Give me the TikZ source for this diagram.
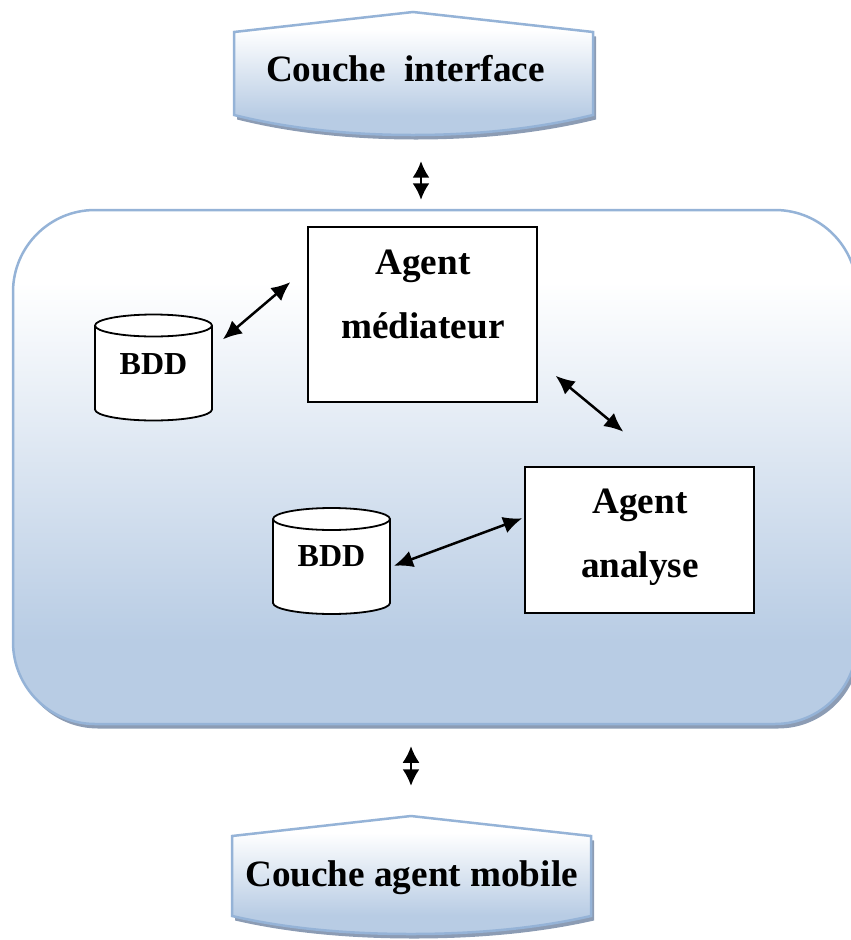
\documentclass[tikz,border=0pt]{standalone}
\usepackage{fontspec}
\setmainfont{Liberation Serif}
\usetikzlibrary{arrows.meta,shadows}
\definecolor{layerblue}{HTML}{B8CCE4}
\definecolor{layeredge}{HTML}{95B3D7}
\definecolor{layershadow}{HTML}{8C9CB4}
\pgfdeclareverticalshading{layerfade}{100bp}{color(0bp)=(layerblue); color(33bp)=(layerblue); color(68bp)=(white); color(100bp)=(white)}
\newcommand{\bddcan}{
    \draw[bddline] (-58.5,-42) .. controls (-58.5,-48) and (-32,-53) .. (0,-53)
        .. controls (32,-53) and (58.5,-48) .. (58.5,-42) -- (58.5,42)
        .. controls (58.5,48) and (32,53) .. (0,53)
        .. controls (-32,53) and (-58.5,48) .. (-58.5,42) -- cycle;
    \draw[bddline] (-58.5,-42) .. controls (-58.5,-36) and (-32,-31) .. (0,-31)
        .. controls (32,-31) and (58.5,-36) .. (58.5,-42);
}
\tikzset{
    layer/.style={draw=layeredge, line width=2.5pt, shading=layerfade,
        drop shadow={shadow xshift=3pt, shadow yshift=-4.5pt, fill=layershadow, opacity=1}},
    title/.style={inner sep=0pt, minimum width=359pt},
    titletext/.style={inner sep=0pt, font=\fontsize{37.2}{44}\selectfont\bfseries},
    agentbox/.style={draw, line width=1.8pt, fill=white, minimum width=229pt, inner sep=0pt},
    agenttext/.style={align=center, inner sep=0pt, font=\fontsize{37.2}{64}\selectfont\bfseries},
    bddline/.style={line width=1.8pt, fill=white, line join=round},
    bdd/.style={minimum width=117pt, minimum height=106pt, inner sep=0pt},
    bddtext/.style={inner sep=0pt, font=\fontsize{32}{36}\selectfont\bfseries},
    vlink/.style={{Latex[length=16.5pt,width=17pt]}-{Latex[length=16.5pt,width=17pt]}, line width=2pt},
    link/.style={{Latex[length=19pt,width=17pt]}-{Latex[length=19pt,width=17pt]}, line width=2.5pt},
}
\begin{document}
\begin{tikzpicture}[x=1pt, y=-1pt]
    \useasboundingbox (0,0) rectangle (851,940);

    \path[layer] (234,32) -- (413,12) -- (593,32) -- (593,115)
        .. controls (540,128) and (480,135) .. (413,135)
        .. controls (346,135) and (286,128) .. (234,115) -- cycle;
    \node[title, minimum height=123pt] (iface) at (413,73.5) {};
    \node[titletext] (ifacetext) at (405.5,69) {Couche\ \ interface};

    \node[layer, rounded corners=82pt, minimum width=844pt, minimum height=514pt, inner sep=0pt] (mid) at (435,467) {};

    \path[layer] (232,836) -- (411,816) -- (591,836) -- (591,916)
        .. controls (538,928) and (478,934) .. (411,934)
        .. controls (344,934) and (284,928) .. (232,916) -- cycle;
    \node[title, minimum height=118pt] (mobile) at (411,875) {};
    \node[titletext] (mobiletext) at (411.5,878) {Couche agent mobile};

    \node[agentbox, minimum height=175pt] (med) at (422.5,314.5) {};
    \node[agenttext] (medtext) at (423,294) {Agent\\médiateur};
    \node[agentbox, minimum height=146pt] (ana) at (639.5,540) {};
    \node[agenttext] (anatext) at (640,537) {Agent\\analyse};

    \begin{scope}[shift={(153.5,367.5)}]
        \bddcan
    \end{scope}
    \node[bdd] (bdda) at (153.5,367.5) {};
    \node[bddtext] (bddatext) at (153.5,364) {BDD};
    \begin{scope}[shift={(331.5,561)}]
        \bddcan
    \end{scope}
    \node[bdd] (bddb) at (331.5,561) {};
    \node[bddtext] (bddbtext) at (331.5,556) {BDD};

    \draw[vlink, shorten <=26pt, shorten >=9pt] ([xshift=8pt]iface.south) -- ([xshift=-14pt]mid.north);
    \draw[vlink, shorten <=21pt, shorten >=30pt] ([xshift=-24pt]mid.south) -- (mobile.north);
    \draw[link, shorten <=14pt, shorten >=22pt] (bdda.18) -- (med.158);
    \draw[link, shorten <=23pt, shorten >=54pt] (med.338) -- (ana.71.4);
    \draw[link, shorten <=4pt, shorten >=2pt] (bddb.354) -- (ana.169.6);
\end{tikzpicture}
\end{document}
